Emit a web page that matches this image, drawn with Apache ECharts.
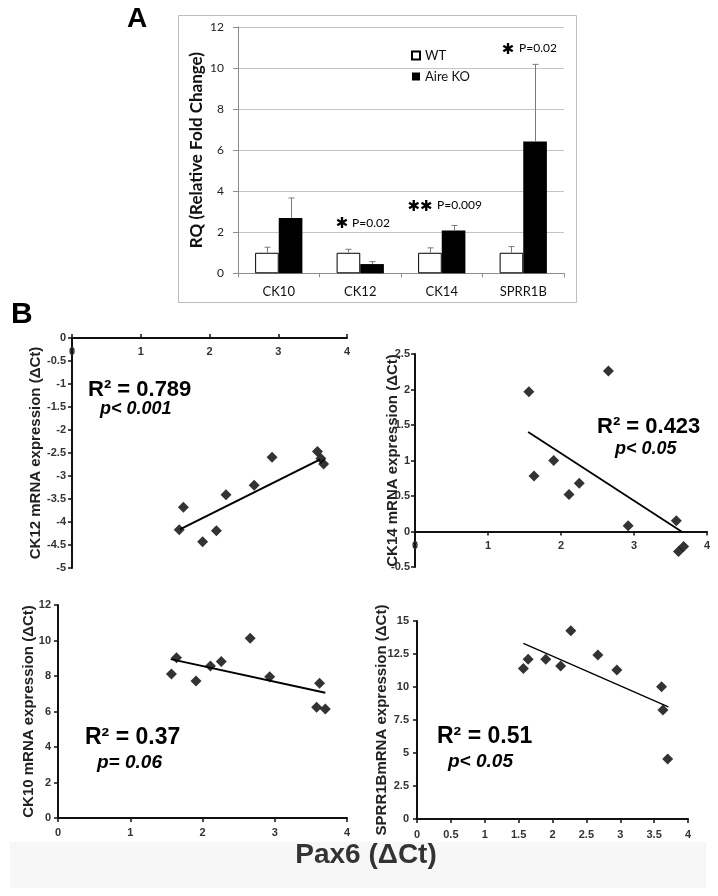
<!DOCTYPE html>
<html><head><meta charset="utf-8">
<script src="https://cdn.jsdelivr.net/npm/echarts@6/dist/echarts.min.js"></script>
<style>html,body{margin:0;padding:0;background:#fff}#c{width:718px;height:896px}</style>
</head><body><div id="c"></div>
<script>
// ---- Panel A data ----
const categories = ['CK10', 'CK12', 'CK14', 'SPRR1B'];
const wtValues = [1.0, 1.0, 1.0, 1.0];
const wtErrTop = [1.27, 1.17, 1.24, 1.30];
const koValues = [2.69, 0.45, 2.08, 6.42];
const koErrTop = [3.67, 0.57, 2.33, 10.18];

// ---- Panel B data (x = Pax6 ΔCt) ----
const pax6CK12 = [1.56, 1.62, 1.90, 2.10, 2.24, 2.65, 2.91, 3.57, 3.62, 3.66];
const ck12 = [-4.17, -3.68, -4.43, -4.19, -3.41, -3.20, -2.59, -2.47, -2.62, -2.74];
const ck12TrendX = [1.57, 3.61];
const ck12TrendY = [-4.16, -2.64];

const pax6CK14 = [1.56, 1.63, 1.90, 2.11, 2.25, 2.65, 2.92, 3.58, 3.61, 3.68];
const ck14 = [1.97, 0.78, 1.00, 0.52, 0.68, 2.26, 0.08, 0.15, -0.28, -0.21];
const ck14TrendX = [1.55, 3.65];
const ck14TrendY = [1.40, 0.0];

const pax6CK10 = [1.57, 1.64, 1.91, 2.11, 2.26, 2.66, 2.93, 3.62, 3.58, 3.70];
const ck10 = [8.11, 9.03, 7.72, 8.56, 8.81, 10.12, 7.96, 7.59, 6.24, 6.14];
const ck10TrendX = [1.56, 3.70];
const ck10TrendY = [8.95, 7.06];

const pax6SPRR = [1.57, 1.64, 1.90, 2.12, 2.27, 2.67, 2.95, 3.61, 3.63, 3.70];
const sprr1b = [11.41, 12.10, 12.10, 11.60, 14.27, 12.42, 11.29, 10.02, 8.26, 4.55];
const sprrTrendX = [1.57, 3.71];
const sprrTrendY = [13.31, 8.50];

const zip = (a, b) => a.map((v, i) => [v, b[i]]);

const chart = echarts.init(document.getElementById('c'), null, {renderer: 'canvas'});

const fA = 'Lato, "Liberation Sans", sans-serif';
const fB = '"Liberation Sans", Arial, sans-serif';

const BAR_FRAC = 0.29;
function errItem(sign) {
  return function (params, api) {
    const idx = api.value(0);
    const base = api.coord([idx, api.value(1)]);
    const top = api.coord([idx, api.value(2)]);
    const band = api.size([1, 0])[0];
    const x = Math.round(base[0] + sign * band * BAR_FRAC / 2) + 0.5;
    const cap = 3;
    const style = {stroke: '#7a7a7a', lineWidth: 1};
    return {type: 'group', children: [
      {type: 'line', shape: {x1: x, y1: base[1], x2: x, y2: top[1]}, style},
      {type: 'line', shape: {x1: x - cap, y1: top[1], x2: x + cap, y2: top[1]}, style}
    ]};
  };
}

function scatterAxes(gi, ymin, ymax, yint, xint, name, nameGap, yMargin, xMargin, xExtra) {
  return {
    x: Object.assign({gridIndex: gi, type: 'value', min: 0, max: 4, interval: xint,
      axisLine: {onZero: false, lineStyle: {color: '#111', width: 2}},
      axisTick: {show: true, length: 4, lineStyle: {color: '#111', width: 1.5}},
      axisLabel: {margin: xMargin, fontFamily: fB, fontWeight: 'bold', fontSize: 11, color: '#333',
        formatter: v => String(v)},
      splitLine: {show: false}}, xExtra || {}),
    y: {gridIndex: gi, type: 'value', min: ymin, max: ymax, interval: yint,
      name: name, nameLocation: 'middle', nameGap: nameGap, nameMoveOverlap: false,
      nameTextStyle: {fontFamily: fB, fontWeight: 'bold', fontSize: 15, color: '#222'},
      axisLine: {onZero: false, lineStyle: {color: '#111', width: 2}},
      axisTick: {show: true, length: 4, lineStyle: {color: '#111', width: 1.5}},
      axisLabel: {margin: yMargin, fontFamily: fB, fontWeight: 'bold', fontSize: 11, color: '#333',
        formatter: v => String(v)},
      splitLine: {show: false}}
  };
}

// plot 1: y range ends at 0 -> x axis along the top edge, labels inside
const a1 = scatterAxes(1, -5, 0, 0.5, 1, 'CK12 mRNA expression (\u0394Ct)', 29, 6, 8,
  {position: 'top', axisLabel: {inside: true, margin: 8, fontFamily: fB, fontWeight: 'bold', fontSize: 11, color: '#333', formatter: v => String(v)}});
// plot 2: x axis crosses at y = 0 (1/6 of the height above the bottom)
const a2 = scatterAxes(2, -0.5, 2.5, 0.5, 1, 'CK14 mRNA expression (\u0394Ct)', 15, 5, 9,
  {position: 'bottom', offset: -213 * (0.5 / 3)});
const a3 = scatterAxes(3, 0, 12, 2, 1, 'CK10 mRNA expression (\u0394Ct)', 22, 7, 9);
const a4 = scatterAxes(4, 0, 15, 2.5, 0.5, 'SPRR1BmRNA expression (\u0394Ct)', 28, 8, 10);

function scatterSeries(i, xs, ys) {
  return {type: 'scatter', xAxisIndex: i, yAxisIndex: i, data: zip(xs, ys),
    symbol: 'diamond', symbolSize: 11, itemStyle: {color: '#000'}, silent: true};
}
function trendSeries(i, xs, ys, w) {
  return {type: 'line', xAxisIndex: i, yAxisIndex: i, data: zip(xs, ys),
    symbol: 'none', lineStyle: {color: '#000', width: w}, silent: true};
}

function txt(x, y, text, font, align) {
  return {type: 'text', x: x, y: y, silent: true,
    style: {text: text, font: font, fill: '#000', textAlign: align || 'left', textVerticalAlign: 'middle'}};
}

const option = {
  animation: false,
  backgroundColor: '#fff',
  grid: [
    {left: 238, top: 27, width: 326, height: 246.3},
    {left: 72, top: 338, width: 275, height: 230},
    {left: 415, top: 354, width: 292, height: 213},
    {left: 58, top: 605, width: 289, height: 213},
    {left: 417, top: 621, width: 271, height: 198}
  ],
  legend: {
    data: ['WT', 'Aire KO'], orient: 'vertical', left: 411, top: 49, padding: 0,
    itemWidth: 8, itemHeight: 8, itemGap: 8, icon: 'rect',
    textStyle: {fontFamily: fA, fontSize: 13, color: '#111'},
    selectedMode: false
  },
  xAxis: [
    {gridIndex: 0, type: 'category', data: categories, boundaryGap: true,
      axisLine: {lineStyle: {color: '#8c8c8c'}},
      axisTick: {show: true, alignWithLabel: false, length: 4, lineStyle: {color: '#8c8c8c'}},
      axisLabel: {margin: 12, fontFamily: fA, fontSize: 13, color: '#111'}},
    a1.x, a2.x, a3.x, a4.x
  ],
  yAxis: [
    {gridIndex: 0, type: 'value', min: 0, max: 12, interval: 2,
      name: 'RQ (Relative Fold Change)', nameLocation: 'middle', nameGap: 33, nameMoveOverlap: false,
      nameTextStyle: {fontFamily: fA, fontWeight: 'bold', fontSize: 17, color: '#111'},
      axisLine: {show: true, lineStyle: {color: '#8c8c8c'}},
      axisTick: {show: true, length: 5, lineStyle: {color: '#8c8c8c'}},
      axisLabel: {margin: 14, fontFamily: fA, fontSize: 12, color: '#222'},
      splitLine: {lineStyle: {color: '#c4c4c4'}}},
    a1.y, a2.y, a3.y, a4.y
  ],
  series: [
    {name: 'WT', type: 'bar', xAxisIndex: 0, yAxisIndex: 0, data: wtValues,
      barWidth: (BAR_FRAC * 100) + '%', barGap: '0%',
      itemStyle: {color: '#fff', borderColor: '#000', borderWidth: 1}, silent: true},
    {name: 'Aire KO', type: 'bar', xAxisIndex: 0, yAxisIndex: 0, data: koValues,
      barWidth: (BAR_FRAC * 100) + '%', barGap: '0%',
      itemStyle: {color: '#000'}, silent: true},
    {type: 'custom', xAxisIndex: 0, yAxisIndex: 0, renderItem: errItem(-1),
      data: categories.map((c, i) => [i, wtValues[i], wtErrTop[i]]), z: 5, silent: true},
    {type: 'custom', xAxisIndex: 0, yAxisIndex: 0, renderItem: errItem(1),
      data: categories.map((c, i) => [i, koValues[i], koErrTop[i]]), z: 5, silent: true},
    scatterSeries(1, pax6CK12, ck12), trendSeries(1, ck12TrendX, ck12TrendY, 2),
    scatterSeries(2, pax6CK14, ck14), trendSeries(2, ck14TrendX, ck14TrendY, 1.8),
    scatterSeries(3, pax6CK10, ck10), trendSeries(3, ck10TrendX, ck10TrendY, 2),
    scatterSeries(4, pax6SPRR, sprr1b), trendSeries(4, sprrTrendX, sprrTrendY, 1.3)
  ],
  graphic: [
    {type: 'rect', z: -10, silent: true, shape: {x: 10, y: 842, width: 696, height: 46}, style: {fill: '#f7f7f7'}},
    {type: 'rect', silent: true, shape: {x: 178.5, y: 15.5, width: 398, height: 287}, style: {fill: 'none', stroke: '#bdbdbd', lineWidth: 1}},
    txt(127, 19, 'A', 'bold 28px "Liberation Sans", Arial, sans-serif'),
    txt(11, 315, 'B', 'bold 30px "Liberation Sans", Arial, sans-serif'),
    txt(342, 224, '\u2731', '15px "DejaVu Sans", sans-serif', 'center'),
    txt(352, 223, 'P=0.02', '12px Lato, sans-serif'),
    txt(420, 207, '\u2731\u2731', '15px "DejaVu Sans", sans-serif', 'center'),
    txt(437, 205, 'P=0.009', '12px Lato, sans-serif'),
    txt(508, 50, '\u2731', '15px "DejaVu Sans", sans-serif', 'center'),
    txt(519, 48, 'P=0.02', '12px Lato, sans-serif'),
    txt(88, 390, 'R\u00b2 = 0.789', 'bold 22px "Liberation Sans", Arial, sans-serif'),
    txt(100, 409, 'p< 0.001', 'italic bold 18px "Liberation Sans", Arial, sans-serif'),
    txt(597, 427, 'R\u00b2 = 0.423', 'bold 22px "Liberation Sans", Arial, sans-serif'),
    txt(615, 449, 'p< 0.05', 'italic bold 18px "Liberation Sans", Arial, sans-serif'),
    txt(85, 738, 'R\u00b2 = 0.37', 'bold 23px "Liberation Sans", Arial, sans-serif'),
    txt(97, 763, 'p= 0.06', 'italic bold 19px "Liberation Sans", Arial, sans-serif'),
    txt(437, 737, 'R\u00b2 = 0.51', 'bold 23px "Liberation Sans", Arial, sans-serif'),
    txt(448, 762, 'p< 0.05', 'italic bold 19px "Liberation Sans", Arial, sans-serif'),
    {type: 'text', x: 366, y: 855, silent: true, style: {text: 'Pax6 (\u0394Ct)', font: 'bold 28px "Liberation Sans", Arial, sans-serif', fill: '#333', textAlign: 'center', textVerticalAlign: 'middle'}}
  ]
};
chart.setOption(option);
</script>
</body></html>
